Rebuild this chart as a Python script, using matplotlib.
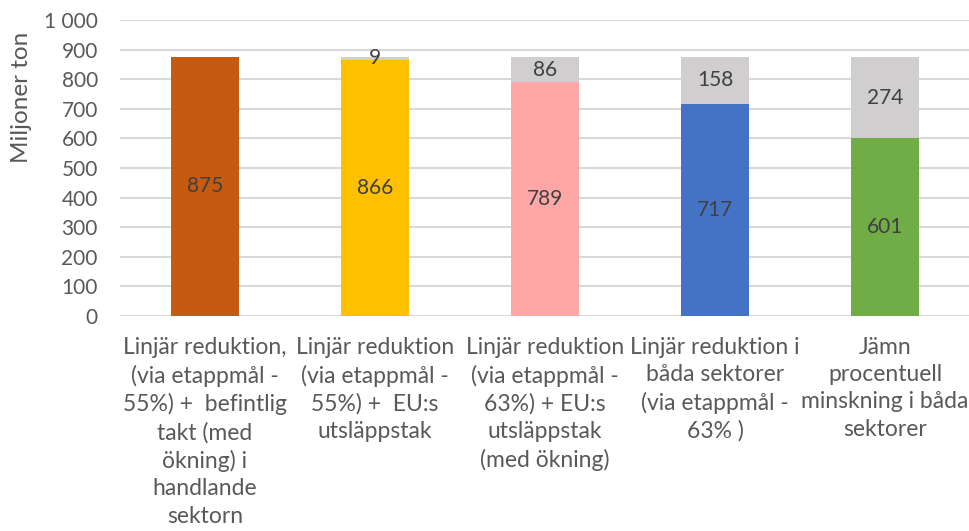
import numpy as np
import matplotlib.pyplot as plt
from matplotlib.ticker import FuncFormatter

# Data
categories = [
    "Linjär reduktion,\n(via etappmål -\n55%) +  befintlig\ntakt (med\nökning) i\nhandlande\nsektorn",
    "Linjär reduktion\n(via etappmål -\n55%) +  EU:s\nutsläppstak",
    "Linjär reduktion\n(via etappmål -\n63%) + EU:s\nutsläppstak\n(med ökning)",
    "Linjär reduktion i\nbåda sektorer\n(via etappmål -\n63% )",
    "Jämn\nprocentuell\nminskning i båda\nsektorer",
]
base = [875, 866, 789, 717, 601]
extra = [0, 9, 86, 158, 274]
base_colors = ["#C55A11", "#FFC000", "#FFA7A7", "#4472C4", "#70AD47"]
extra_color = "#D0CECE"

plt.rcParams['font.family'] = ['Lato', 'DejaVu Sans']

fig = plt.figure(figsize=(9.7, 5.31), dpi=100)
ax = fig.add_axes([120 / 970, 1 - 316 / 531, 850 / 970, 296 / 531])

x = np.arange(len(categories))
ax.bar(x, base, width=0.4, color=base_colors, zorder=3)
ax.bar(x, extra, width=0.4, bottom=base, color=extra_color, zorder=3)

# etiketter i staplarna
for i in range(len(x)):
    ax.text(x[i], base[i] / 2, str(base[i]), ha="center", va="center",
            fontsize=15, color="#404040", zorder=4)
    if extra[i] > 0:
        ax.text(x[i], base[i] + extra[i] / 2, str(extra[i]), ha="center", va="center",
                fontsize=15, color="#404040", zorder=4)

ax.set_xlim(-0.5, 4.5)
ax.set_ylim(0, 1000)
ax.set_yticks(range(0, 1001, 100))
ax.yaxis.set_major_formatter(FuncFormatter(lambda v, p: f"{int(v):,}".replace(",", " ")))
ax.grid(axis="y", color="#D9D9D9", lw=1.5, zorder=0)
for s in ax.spines.values():
    s.set_visible(False)
ax.tick_params(axis="y", length=0, pad=16, labelsize=15, labelcolor="#595959")
ax.tick_params(axis="x", length=0, pad=15)
ax.set_xticks(x)
ax.set_xticklabels(categories, fontsize=16.5, color="#595959", linespacing=1.37)
ax.set_ylabel("Miljoner ton", fontsize=17.5, color="#595959")
ax.yaxis.set_label_coords(-88 / 850, 0.74)

fig.savefig("out.png", dpi=100)
